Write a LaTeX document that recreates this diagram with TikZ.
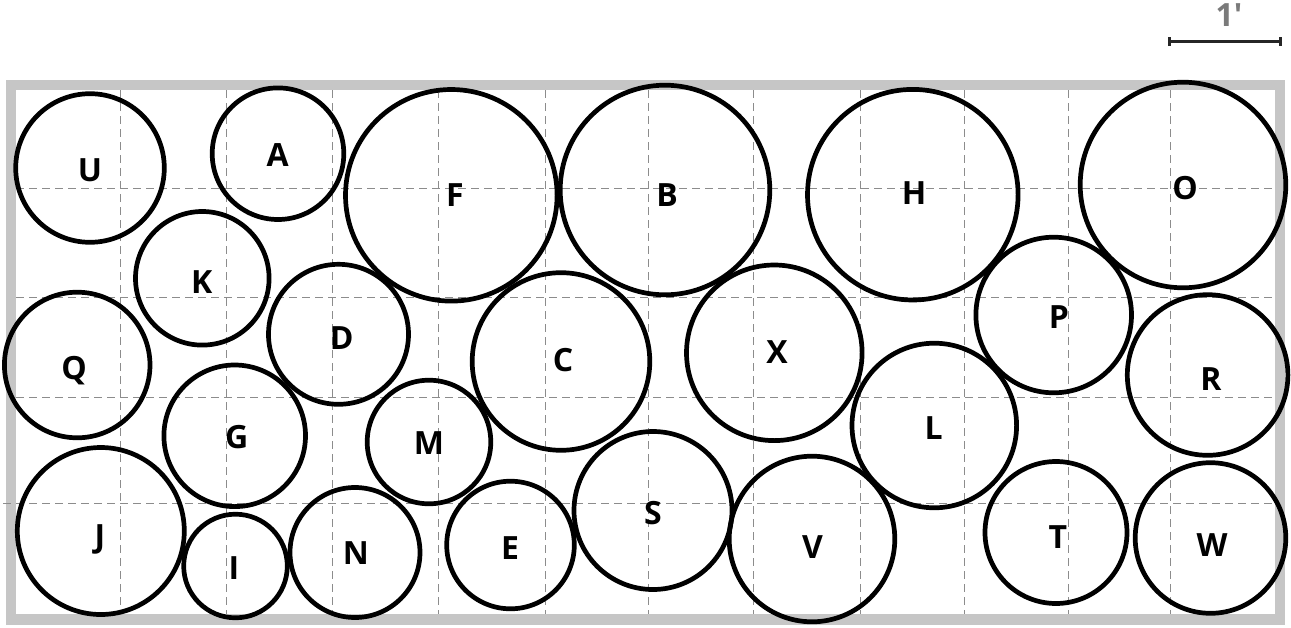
\documentclass[tikz,border=0pt]{standalone}
\usepackage{fontspec}
\setmainfont{Open Sans}
\usetikzlibrary{arrows.meta}
\definecolor{bedgray}{HTML}{C6C6C6}
\definecolor{gridgray}{HTML}{8C8C8C}
\definecolor{unitgray}{HTML}{7A7A7A}
\tikzset{
  plant/.style={draw, circle, line width=4.7pt, inner sep=0pt, outer sep=0pt},
  tag/.style={inner sep=0pt, text height=23pt, text depth=0pt,
    font=\bfseries\fontsize{32}{32}\selectfont},
  gridline/.style={gridgray, line width=0.9pt, dash pattern=on 8pt off 5pt},
}
\begin{document}
\begin{tikzpicture}[x=1pt, y=-1pt]
  \useasboundingbox (0,0) rectangle (1291,627);
  % bed outline
  \draw[bedgray, line width=10.5pt] (11,85) rectangle (1280,619.5);
  % one-foot grid
  \foreach \gx in {120.7,226.7,332.5,438.3,545,648.3,753.3,860,964.3,1068.7,1170.8}
    \draw[gridline] (\gx,90) -- (\gx,614);
  \foreach \gy in {188,297.7,397}
    \draw[gridline] (16,\gy) -- (1274,\gy);
  \draw[gridline] (3,503.5) -- (1274,503.5);
  % plants: name/x/y/radius/label x/label y
  \foreach \n/\x/\y/\r/\lx/\ly in {U/90/168/74.3/90/170, A/278/153.7/65.8/277.7/155,
      F/451.3/195.3/105.8/455/195, B/665/190/104.8/667/195,
      H/912.8/194.7/105.3/914/193, O/1183/185/102.8/1185/188,
      K/202.3/278.3/66.8/201.7/281.7, D/338.5/334.3/70/341.7/338,
      Q/77.2/365/72.8/74/368, C/561/361.5/88.8/563/360,
      X/774.3/352.8/87.8/777/351.7, P/1053.7/315/77.8/1059/317,
      R/1207.6/375/80.3/1211/379, L/934.3/425.5/82.3/933.7/428,
      G/234.7/435.8/70.8/236.7/436.7, M/429/442/61.8/429/443,
      J/100.8/531/83.5/100/536.3, I/235.5/566/51.8/234/568,
      N/355/552.5/65/356/553, E/510.5/545/63.8/510/548,
      S/653/510.5/79/653/513, V/812/539/82.8/812.5/546.7,
      T/1056/532.5/71/1058/536.7, W/1210.5/538/75.3/1212/545}
  {
    \node[plant, minimum size=2*\r] (\n) at (\x,\y) {};
    \node[tag] (\n-tag) at (\lx,\ly) {\n};
  }
  % scale bar
  \coordinate (sbl) at (1168.3,41.7);
  \coordinate (sbr) at (1281.7,41.7);
  \draw[{Bar[width=9pt]}-{Bar[width=9pt]}, line width=2.5pt, black!85] (sbl) -- (sbr);
  \node[unitgray, anchor=base, inner sep=0pt, font=\bfseries\fontsize{32}{32}\selectfont] (unit) at (1229,26) {1\textquotesingle};
\end{tikzpicture}
\end{document}
